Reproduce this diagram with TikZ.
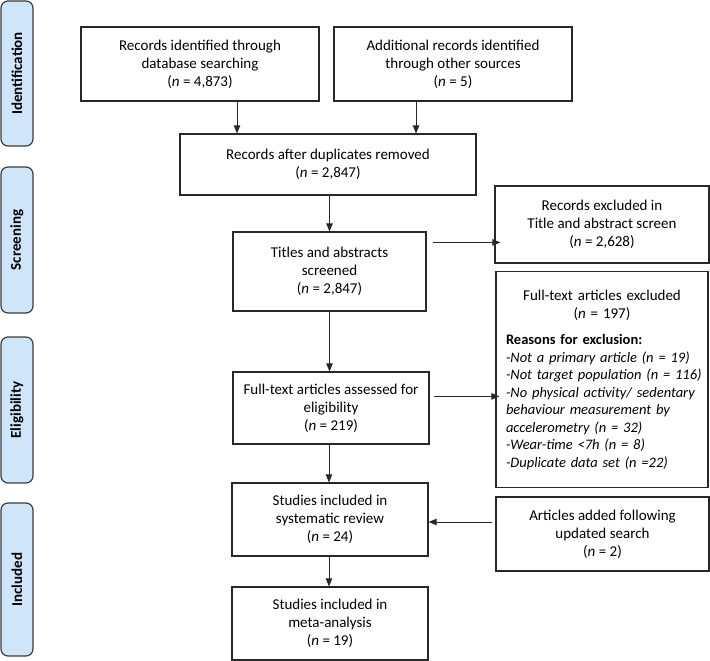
\documentclass[tikz,border=0pt]{standalone}
\usepackage{fontspec}
\setmainfont{Carlito}
\usetikzlibrary{arrows.meta,calc}
\definecolor{phasefill}{RGB}{206,229,250}
\definecolor{edge}{RGB}{40,40,40}
\begin{document}
\begin{tikzpicture}[x=1pt,y=-1pt,
  box/.style={draw=edge,line width=1.2pt,align=center,inner sep=4pt,font=\fontsize{15}{18}\selectfont},
  phase/.style={draw=edge!90,line width=1.2pt,fill=phasefill,rounded corners=7pt,minimum height=32pt,rotate=90,font=\bfseries\fontsize{15}{18}\selectfont},
  arr/.style={-{Triangle[length=8pt,width=6.5pt]},line width=0.9pt,draw=edge}]
\useasboundingbox (0,0) rectangle (710,661);

% phase labels
\node[phase,minimum width=145pt] (pI) at (17,73.5) {Identification};
\node[phase,minimum width=146pt] (pS) at (17,240) {Screening};
\node[phase,minimum width=146pt] (pE) at (17,410) {Eligibility};
\node[phase,minimum width=153pt] (pN) at (17,579.5) {Included};

% main boxes
\node[box,minimum width=238pt,minimum height=74pt] (b1) at (200,64)
  {Records identified through\\database searching\\(\textit{n} = 4,873)};
\node[box,minimum width=238pt,minimum height=74pt] (b2) at (453,64)
  {Additional records identified\\through other sources\\(\textit{n} = 5)};
\node[box,minimum width=296pt,minimum height=61pt] (b3) at (328,164.5)
  {Records after duplicates removed\\(\textit{n} = 2,847)};
\node[box,minimum width=193pt,minimum height=79pt] (b4) at (329.5,271.5)
  {Titles and abstracts\\screened\\(\textit{n} = 2,847)};
\node[box,minimum width=196pt,minimum height=72pt] (b5) at (331,408)
  {Full-text articles assessed for\\eligibility\\(\textit{n} = 219)};
\node[box,minimum width=196pt,minimum height=73pt] (b6) at (330,519.5)
  {Studies included in\\systematic review\\(\textit{n} = 24)};
\node[box,minimum width=196pt,minimum height=73pt] (b7) at (330,623.5)
  {Studies included in\\meta-analysis\\(\textit{n} = 19)};

% right boxes
\node[box,minimum width=214pt,minimum height=77pt] (r1) at (602,224.5)
  {Records excluded in\\Title and abstract screen\\(\textit{n} = 2,628)};
\node[box,align=left,text width=192pt,inner sep=0pt,inner xsep=10pt,minimum width=212pt,minimum height=216pt,font=\fontsize{14.5}{17.5}\selectfont] (r2) at (602,379.5)
  {{\fontsize{15}{18}\selectfont\centering Full-text articles excluded\\(\textit{n} = 197)\par}\vspace{9pt}%
   \mbox{\textbf{Reasons for exclusion:}}\\
   \mbox{\textit{-Not a primary article (n = 19)}}\\
   \mbox{\textit{-Not target population (n = 116)}}\\
   \mbox{\textit{-No physical activity/ sedentary}}\\
   \mbox{\textit{behaviour measurement by}}\\
   \mbox{\textit{accelerometry (n = 32)}}\\
   \mbox{\textit{-Wear-time <7h (n = 8)}}\\
   \mbox{\textit{-Duplicate data set (n =22)}}};
\node[box,minimum width=213pt,minimum height=74pt] (r3) at (602.5,534)
  {Articles added following\\updated search\\(\textit{n} = 2)};

% connectors
\draw[arr] ([xshift=37pt]b1.south) -- ([xshift=37pt]b1.south |- b3.north);
\draw[arr] ([xshift=-37pt]b2.south) -- ([xshift=-37pt]b2.south |- b3.north);
\draw[arr] (b3.south -| b4.north) -- (b4.north);
\draw[arr] ([shift={(6pt,-11pt)}]b4.north east) -- ([shift={(6pt,-11pt)}]b4.north east -| r1.west);
\draw[arr] (b4.south) -- (b4.south |- b5.north);
\draw[arr] ([shift={(4pt,-25pt)}]b5.north east) -- ([shift={(4pt,-25pt)}]b5.north east -| r2.west);
\draw[arr] ([xshift=-2pt]b5.south) -- ([xshift=-2pt]b5.south |- b6.north);
\draw[arr] ([xshift=-1pt]b6.south) -- ([xshift=-1pt]b6.south |- b7.north);
\draw[arr] ([shift={(-3pt,-2.5pt)}]r3.west |- b6.east) -- ([yshift=-2.5pt]b6.east);
\end{tikzpicture}
\end{document}
